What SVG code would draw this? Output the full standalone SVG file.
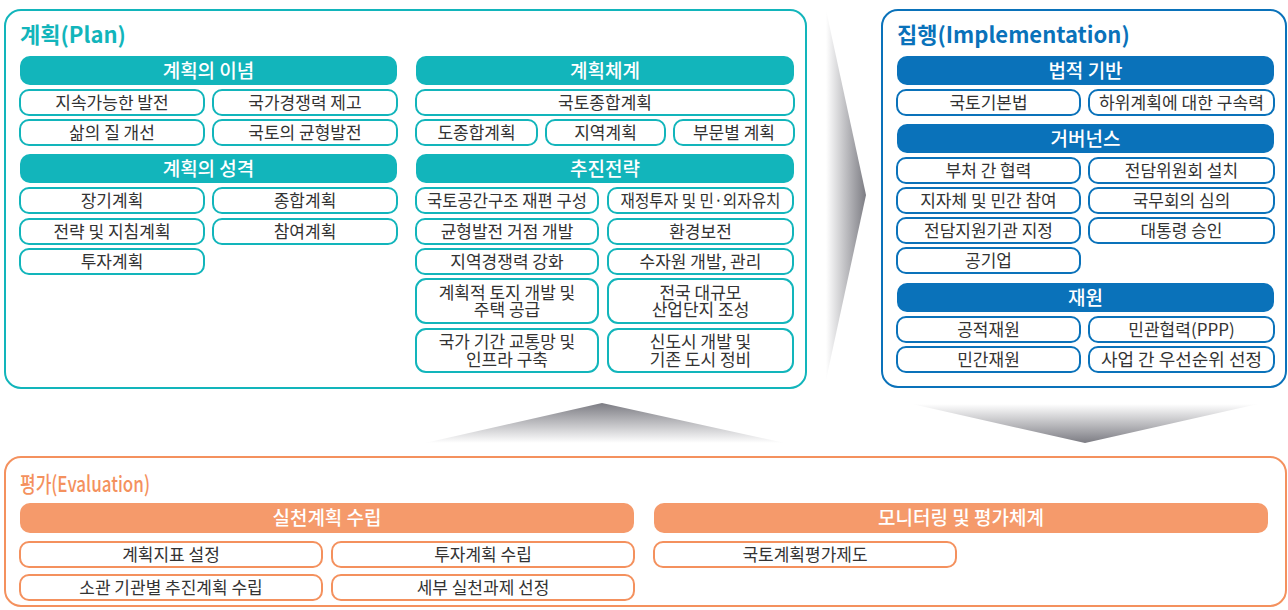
<svg xmlns="http://www.w3.org/2000/svg" width="1288" height="610" viewBox="0 0 1288 610">
<defs>
<style>
text{font-family:"Noto Sans CJK KR","Noto Sans",sans-serif;text-anchor:middle}
.r{font-size:17px;fill:#333}
.h{font-size:19px;fill:#fff;font-weight:500}
.ti{font-size:22px;font-weight:700;text-anchor:start}
.bt{fill:#fff;stroke:#12B5BB;stroke-width:2}
.bb{fill:#fff;stroke:#0A72BA;stroke-width:2}
.bo{fill:#fff;stroke:#F4915E;stroke-width:2}
.ht{fill:#12B5BB}
.hb{fill:#0A72BA}
.ho{fill:#F59A6B}
</style>
<linearGradient id="gR" x1="826" y1="0" x2="866" y2="0" gradientUnits="userSpaceOnUse"><stop offset="0" stop-color="#fff"/><stop offset="1" stop-color="#7c7c83"/></linearGradient>
<linearGradient id="gD" x1="0" y1="404" x2="0" y2="443" gradientUnits="userSpaceOnUse"><stop offset="0" stop-color="#fff"/><stop offset="1" stop-color="#7c7c83"/></linearGradient>
<linearGradient id="gU" x1="0" y1="403" x2="0" y2="443" gradientUnits="userSpaceOnUse"><stop offset="0" stop-color="#7c7c83"/><stop offset="1" stop-color="#fff"/></linearGradient>
</defs>
<rect width="1288" height="610" fill="#fff"/>

<g id="connectors">
<polygon points="826,10 866,195 826,380" fill="url(#gR)"/>
<polygon points="912,404 1258,404 1085,443" fill="url(#gD)"/>
<polygon points="602,403 785,443 425,443" fill="url(#gU)"/>
</g>

<g id="plan">
<rect x="5" y="10" width="801" height="378" rx="16" fill="none" stroke="#12B5BB" stroke-width="2"/>
<text x="20" y="43" class="ti" fill="#12B5BB">계획(Plan)</text>
<g id="plan-ideology">
<rect x="20" y="56" width="377" height="29" rx="10" class="ht"/><text x="208.5" y="77.5" class="h">계획의 이념</text>
<rect x="20" y="90" width="184" height="25" rx="9" class="bt"/><text x="112" y="108.5" class="r">지속가능한 발전</text>
<rect x="213" y="90" width="184" height="25" rx="9" class="bt"/><text x="305" y="108.5" class="r">국가경쟁력 제고</text>
<rect x="20" y="120" width="184" height="25" rx="9" class="bt"/><text x="112" y="138.5" class="r">삶의 질 개선</text>
<rect x="213" y="120" width="184" height="25" rx="9" class="bt"/><text x="305" y="138.5" class="r">국토의 균형발전</text>
</g>
<g id="plan-character">
<rect x="20" y="154" width="377" height="29" rx="10" class="ht"/><text x="208.5" y="175.5" class="h">계획의 성격</text>
<rect x="20" y="188" width="184" height="25" rx="9" class="bt"/><text x="112" y="206.5" class="r">장기계획</text>
<rect x="213" y="188" width="184" height="25" rx="9" class="bt"/><text x="305" y="206.5" class="r">종합계획</text>
<rect x="20" y="219" width="184" height="25" rx="9" class="bt"/><text x="112" y="237.5" class="r">전략 및 지침계획</text>
<rect x="213" y="219" width="184" height="25" rx="9" class="bt"/><text x="305" y="237.5" class="r">참여계획</text>
<rect x="20" y="249" width="184" height="25" rx="9" class="bt"/><text x="112" y="267.5" class="r">투자계획</text>
</g>
<g id="plan-system">
<rect x="416" y="56" width="378" height="29" rx="10" class="ht"/><text x="605" y="77.5" class="h">계획체계</text>
<rect x="416" y="90" width="378" height="25" rx="9" class="bt"/><text x="605" y="108.5" class="r">국토종합계획</text>
<rect x="416" y="120" width="121" height="25" rx="9" class="bt"/><text x="476.5" y="138.5" class="r">도종합계획</text>
<rect x="546" y="120" width="119" height="25" rx="9" class="bt"/><text x="605.5" y="138.5" class="r">지역계획</text>
<rect x="674" y="120" width="120" height="25" rx="9" class="bt"/><text x="734" y="138.5" class="r">부문별 계획</text>
</g>
<g id="plan-strategy">
<rect x="416" y="154" width="378" height="29" rx="10" class="ht"/><text x="605" y="175.5" class="h">추진전략</text>
<rect x="416" y="188" width="182" height="25" rx="9" class="bt"/><text x="507" y="206.5" class="r" textLength="160" lengthAdjust="spacingAndGlyphs">국토공간구조 재편 구성</text>
<rect x="608" y="188" width="185" height="25" rx="9" class="bt"/><text x="700.5" y="206.5" class="r" textLength="160" lengthAdjust="spacingAndGlyphs">재정투자 및 민·외자유치</text>
<rect x="416" y="219" width="182" height="25" rx="9" class="bt"/><text x="507" y="237.5" class="r">균형발전 거점 개발</text>
<rect x="608" y="219" width="185" height="25" rx="9" class="bt"/><text x="700.5" y="237.5" class="r">환경보전</text>
<rect x="416" y="249" width="182" height="25" rx="9" class="bt"/><text x="507" y="267.5" class="r">지역경쟁력 강화</text>
<rect x="608" y="249" width="185" height="25" rx="9" class="bt"/><text x="700.5" y="267.5" class="r">수자원 개발, 관리</text>
<rect x="416" y="279" width="182" height="44" rx="10" class="bt"/><text x="507" y="299" class="r">계획적 토지 개발 및</text><text x="507" y="316" class="r">주택 공급</text>
<rect x="608" y="279" width="185" height="44" rx="10" class="bt"/><text x="700.5" y="299" class="r">전국 대규모</text><text x="700.5" y="316" class="r">산업단지 조성</text>
<rect x="416" y="329" width="182" height="43" rx="10" class="bt"/><text x="507" y="348" class="r">국가 기간 교통망 및</text><text x="507" y="366" class="r">인프라 구축</text>
<rect x="608" y="329" width="185" height="43" rx="10" class="bt"/><text x="700.5" y="348" class="r">신도시 개발 및</text><text x="700.5" y="366" class="r">기존 도시 정비</text>
</g>
</g>

<g id="implementation">
<rect x="882" y="10" width="404" height="377" rx="16" fill="none" stroke="#0A72BA" stroke-width="2"/>
<text x="897" y="43" class="ti" fill="#0A72BA">집행(Implementation)</text>
<g id="impl-legal">
<rect x="897" y="56" width="377" height="29" rx="10" class="hb"/><text x="1085.5" y="77.5" class="h">법적 기반</text>
<rect x="897" y="90" width="183" height="25" rx="9" class="bb"/><text x="988.5" y="108.5" class="r">국토기본법</text>
<rect x="1089" y="90" width="185" height="25" rx="9" class="bb"/><text x="1181.5" y="108.5" class="r" textLength="165" lengthAdjust="spacingAndGlyphs">하위계획에 대한 구속력</text>
</g>
<g id="impl-governance">
<rect x="897" y="124" width="377" height="29" rx="10" class="hb"/><text x="1085.5" y="145.5" class="h">거버넌스</text>
<rect x="897" y="158" width="183" height="25" rx="9" class="bb"/><text x="988.5" y="176.5" class="r">부처 간 협력</text>
<rect x="1089" y="158" width="185" height="25" rx="9" class="bb"/><text x="1181.5" y="176.5" class="r">전담위원회 설치</text>
<rect x="897" y="188" width="183" height="25" rx="9" class="bb"/><text x="988.5" y="206.5" class="r">지자체 및 민간 참여</text>
<rect x="1089" y="188" width="185" height="25" rx="9" class="bb"/><text x="1181.5" y="206.5" class="r">국무회의 심의</text>
<rect x="897" y="218" width="183" height="25" rx="9" class="bb"/><text x="988.5" y="236.5" class="r">전담지원기관 지정</text>
<rect x="1089" y="218" width="185" height="25" rx="9" class="bb"/><text x="1181.5" y="236.5" class="r">대통령 승인</text>
<rect x="897" y="248" width="183" height="25" rx="9" class="bb"/><text x="988.5" y="266.5" class="r">공기업</text>
</g>
<g id="impl-finance">
<rect x="897" y="283" width="377" height="29" rx="10" class="hb"/><text x="1085.5" y="304.5" class="h">재원</text>
<rect x="897" y="317" width="183" height="25" rx="9" class="bb"/><text x="988.5" y="335.5" class="r">공적재원</text>
<rect x="1089" y="317" width="185" height="25" rx="9" class="bb"/><text x="1181.5" y="335.5" class="r">민관협력(PPP)</text>
<rect x="897" y="347" width="183" height="25" rx="9" class="bb"/><text x="988.5" y="365.5" class="r">민간재원</text>
<rect x="1089" y="347" width="185" height="25" rx="9" class="bb"/><text x="1181.5" y="365.5" class="r" textLength="161" lengthAdjust="spacingAndGlyphs">사업 간 우선순위 선정</text>
</g>
</g>

<g id="evaluation">
<rect x="5" y="457" width="1281" height="149" rx="16" fill="none" stroke="#F4915E" stroke-width="2"/>
<text x="20" y="492" class="ti" fill="#F4915E" style="font-weight:500" textLength="130" lengthAdjust="spacingAndGlyphs">평가(Evaluation)</text>
<g id="eval-action">
<rect x="20" y="503" width="614" height="30" rx="10" class="ho"/><text x="327" y="525" class="h">실천계획 수립</text>
<rect x="20" y="542" width="302" height="25" rx="9" class="bo"/><text x="171" y="560.5" class="r">계획지표 설정</text>
<rect x="332" y="542" width="302" height="25" rx="9" class="bo"/><text x="483" y="560.5" class="r">투자계획 수립</text>
<rect x="20" y="575" width="302" height="25" rx="9" class="bo"/><text x="171" y="593.5" class="r">소관 기관별 추진계획 수립</text>
<rect x="332" y="575" width="302" height="25" rx="9" class="bo"/><text x="483" y="593.5" class="r">세부 실천과제 선정</text>
</g>
<g id="eval-monitoring">
<rect x="654" y="503" width="614" height="30" rx="10" class="ho"/><text x="961" y="525" class="h">모니터링 및 평가체계</text>
<rect x="654" y="542" width="302" height="25" rx="9" class="bo"/><text x="805" y="560.5" class="r">국토계획평가제도</text>
</g>
</g>
</svg>
